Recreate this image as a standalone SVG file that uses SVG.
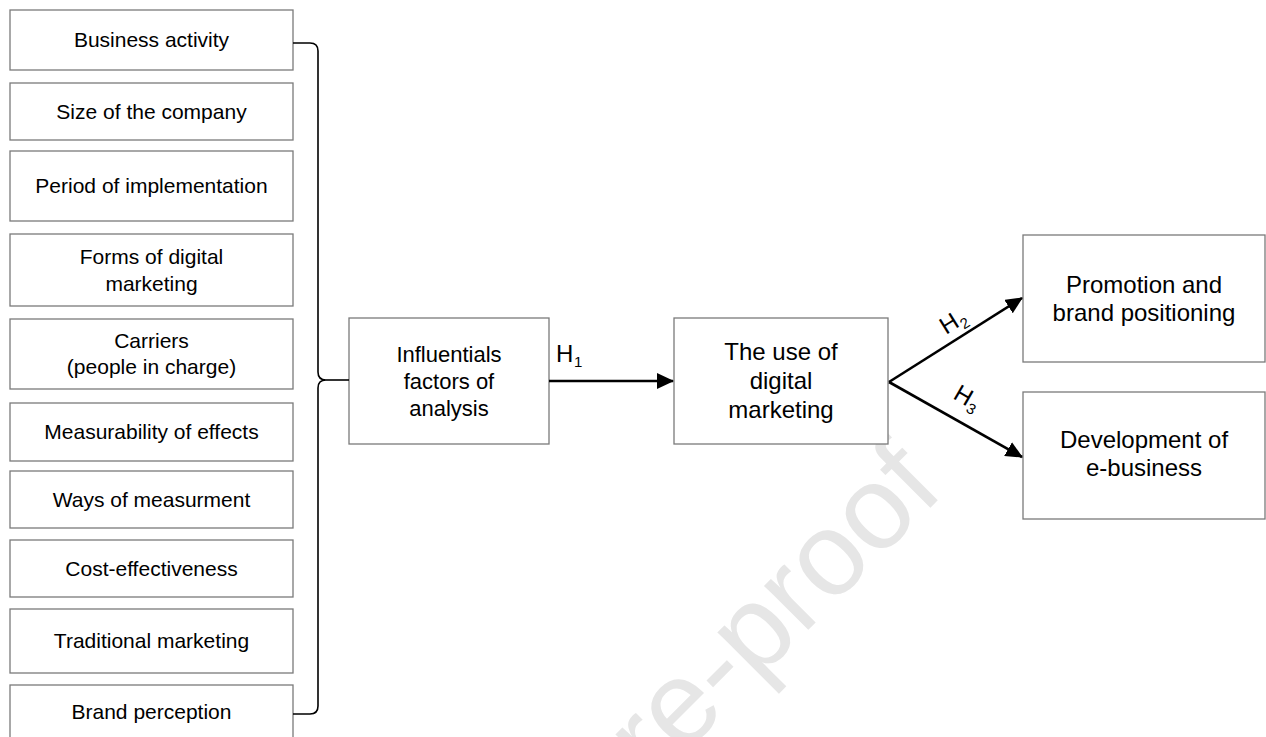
<svg xmlns="http://www.w3.org/2000/svg" width="1266" height="737" viewBox="0 0 1266 737">
<style>
.box{fill:#ffffff;stroke:#7a7a7a;stroke-width:1.3}
.t{font-family:"Liberation Sans",Arial,sans-serif;font-size:21px;fill:#000;text-anchor:middle}
.tm{font-family:"Liberation Sans",Arial,sans-serif;font-size:22px;fill:#000;text-anchor:middle}
.tl{font-family:"Liberation Sans",Arial,sans-serif;font-size:24px;fill:#000;text-anchor:middle}
.h{font-family:"Liberation Sans",Arial,sans-serif;font-size:24px;fill:#000}
.hs{font-family:"Liberation Sans",Arial,sans-serif;font-size:15px;fill:#000}
.arr{fill:none;stroke:#000;stroke-width:2.6}
.br{fill:none;stroke:#000;stroke-width:1.6}
.wm{font-family:"Liberation Sans",Arial,sans-serif;font-size:118px;fill:#e6e6e6}
</style>
<defs>
<marker id="ah" markerWidth="17" markerHeight="16" refX="16" refY="8" orient="auto" markerUnits="userSpaceOnUse">
<path d="M0,0 L17,8 L0,16 Z" fill="#000"/>
</marker>
</defs>
<rect width="1266" height="737" fill="#ffffff"/>
<text class="wm" transform="translate(654,784) rotate(-45)">re-proof</text>

<g id="n1"><rect class="box" x="10" y="10" width="283" height="60"/><text class="t" x="151.5" y="47">Business activity</text></g>
<g id="n2"><rect class="box" x="10" y="83" width="283" height="57"/><text class="t" x="151.5" y="119">Size of the company</text></g>
<g id="n3"><rect class="box" x="10" y="151" width="283" height="70"/><text class="t" x="151.5" y="193">Period of implementation</text></g>
<g id="n4"><rect class="box" x="10" y="234" width="283" height="72"/><text class="t" x="151.5" y="264">Forms of digital</text><text class="t" x="151.5" y="291">marketing</text></g>
<g id="n5"><rect class="box" x="10" y="319" width="283" height="70"/><text class="t" x="151.5" y="348">Carriers</text><text class="t" x="151.5" y="374">(people in charge)</text></g>
<g id="n6"><rect class="box" x="10" y="403" width="283" height="58"/><text class="t" x="151.5" y="439">Measurability of effects</text></g>
<g id="n7"><rect class="box" x="10" y="471" width="283" height="57"/><text class="t" x="151.5" y="507">Ways of measurment</text></g>
<g id="n8"><rect class="box" x="10" y="540" width="283" height="57"/><text class="t" x="151.5" y="576">Cost-effectiveness</text></g>
<g id="n9"><rect class="box" x="10" y="609" width="283" height="64"/><text class="t" x="151.5" y="648">Traditional marketing</text></g>
<g id="n10"><rect class="box" x="10" y="685" width="283" height="70"/><text class="t" x="151.5" y="719">Brand perception</text></g>

<g id="n11"><rect class="box" x="349" y="318" width="200" height="126"/><text class="tm" x="449" y="362">Influentials</text><text class="tm" x="449" y="389">factors of</text><text class="tm" x="449" y="416">analysis</text></g>
<g id="n12"><rect class="box" x="674" y="318" width="214" height="126"/><text class="tl" x="781" y="360">The use of</text><text class="tl" x="781" y="389">digital</text><text class="tl" x="781" y="418">marketing</text></g>
<g id="n13"><rect class="box" x="1023" y="235" width="242" height="127"/><text class="tl" x="1144" y="293">Promotion and</text><text class="tl" x="1144" y="321">brand positioning</text></g>
<g id="n14"><rect class="box" x="1023" y="392" width="242" height="127"/><text class="tl" x="1144" y="448">Development of</text><text class="tl" x="1144" y="476">e-business</text></g>

<g id="connectors">
<path class="br" d="M293,43 H310 Q318,43 318,51 V372 Q318,380 326,380 Q318,380 318,388 V706 Q318,714 310,714 H293"/>
<path class="br" d="M326,380 H349"/>
<path class="arr" d="M549,381 H673" marker-end="url(#ah)"/>
<path class="arr" d="M889,382 L1022,298" marker-end="url(#ah)"/>
<path class="arr" d="M889,382 L1022,457" marker-end="url(#ah)"/>
<text class="h" x="556" y="362">H</text><text class="hs" x="574" y="367">1</text>
<g transform="translate(946,335) rotate(-32)"><text class="h" x="0" y="0">H</text><text class="hs" x="18" y="5">2</text></g>
<g transform="translate(952,398) rotate(30)"><text class="h" x="0" y="0">H</text><text class="hs" x="18" y="5">3</text></g>
</g>
</svg>
